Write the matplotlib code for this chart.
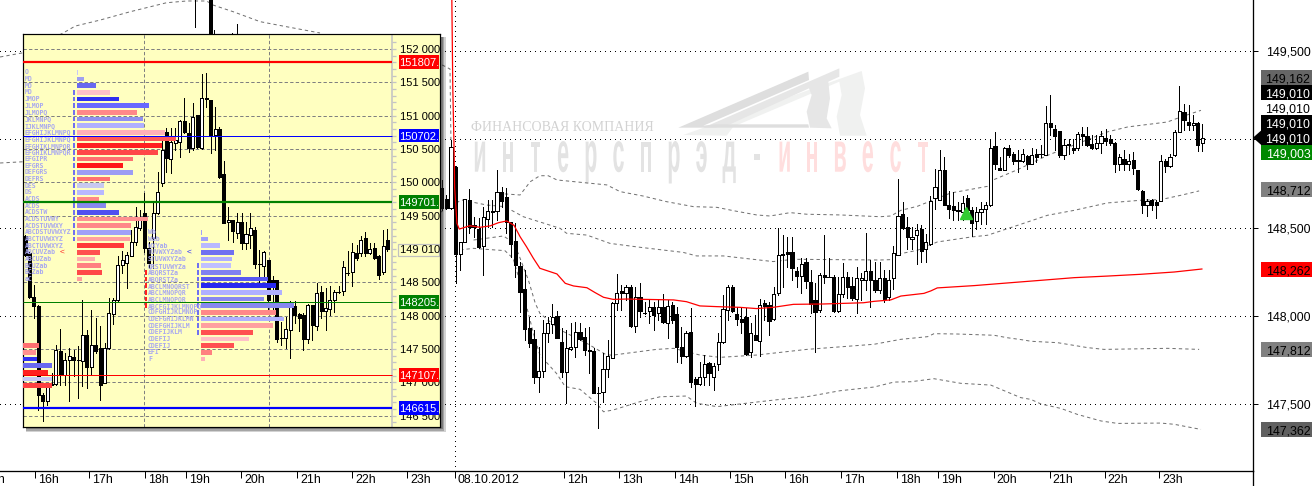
import numpy as np
import matplotlib
matplotlib.use("Agg")
import matplotlib.pyplot as plt
from matplotlib.patches import Rectangle, Polygon
from matplotlib.patheffects import AbstractPathEffect
from matplotlib.transforms import Affine2D, ScaledTranslation

plt.rcParams['font.family'] = ['Liberation Sans', 'DejaVu Sans']
plt.rcParams['lines.scale_dashes'] = False
PX = 0.72

# ---------- main chart candles (5-minute bars, 08.10.2012 session) ----------
main_open = [148723,148660,148610,148842,148349,148421,148657,148513,148492,148398,
 148551,148589,148592,148700,148672,148534,148425,148283,148153,147930,
 147870,147657,147687,147902,147955,148000,147851,147681,147815,147826,
 147908,147879,147808,147800,147566,147568,147698,147762,148072,148140,
 148128,148162,147945,148109,148019,148030,148049,148019,148049,147958,
 148062,148009,147826,147775,147908,147641,147615,147657,147736,147657,
 147726,147851,148034,148162,148011,147981,147992,147796,147891,147860,
 148072,148062,147981,148128,148349,148360,148360,148255,148228,148304,
 148191,148089,148034,148232,148223,148219,148030,148123,148219,148170,
 148096,148202,148202,148253,148204,148147,
 148217,148107,148217,148347,
 148579,148502,148436,148460,148491,148379,148408,148670,148658,148828,
 148630,148621,148600,148589,148670,148602,148540,148591,148608,148628,
 148960,148840,148828,148953,148919,148883,148879,148904,148862,148915,
 148919,148911,149094,149060,149045,148911,148972,148953,148953,149032,
 149021,148972,148953,148979,149009,149004,148981,148862,148891,148862,
 148881,148828,148709,148630,148655,148643,148653,148879,148851,148911,
 149043,149153,149100,149083,149094,148981]
main_close = [148610,148610,148955,148349,148421,148660,148502,148502,148389,148562,
 148592,148592,148700,148653,148534,148408,148291,148138,147926,147849,
 147657,147687,147902,147958,147996,147877,147681,147817,147826,147908,
 147868,147808,147804,147566,147562,147698,147774,148072,148128,148128,
 148162,147945,148109,148030,148015,148049,148006,148049,147966,148058,
 147977,147826,147775,147902,147628,147615,147657,147726,147679,147719,
 147851,148038,148166,148030,147981,147966,147785,147902,147864,148060,
 148058,147970,148123,148343,148345,148349,148270,148228,148292,148200,
 148068,148021,148232,148219,148221,148030,148123,148219,148166,148100,
 148213,148213,148253,148204,148147,148217,
 148098,148202,148358,148564,
 148498,148447,148447,148489,148370,148421,148653,148732,148828,148630,
 148608,148598,148596,148642,148598,148528,148589,148606,148630,148953,
 148858,148828,148953,148911,148877,148879,148917,148858,148911,148900,
 148915,149094,149070,149019,148909,148970,148968,148940,149032,149017,
 148968,148951,148979,149021,148989,148981,148862,148902,148862,148879,
 148838,148717,148630,148653,148630,148630,148879,148851,148900,149043,
 149162,149108,149081,149094,148970,149009]
main_high = [148770,148685,148996,148850,148421,148660,148717,148562,148553,148619,
 148657,148657,148827,148732,148723,148534,148525,148308,148260,147996,
 147921,147826,147977,147996,148066,148028,147930,147921,147958,147968,
 147958,147930,147940,147817,147600,147789,147864,148081,148238,148175,
 148175,148175,148166,148185,148081,148091,148081,148091,148125,148091,
 148081,148053,147940,147917,148043,147657,147741,147779,147741,147732,
 147902,148119,148175,148175,148053,148053,148043,147958,148006,148096,
 148091,148081,148166,148496,148458,148449,148445,148279,148326,148326,
 148260,148185,148241,148458,148326,148232,148223,148298,148251,148223,
 148275,148241,148468,148317,148308,148308,
 148258,148258,148396,148777,
 148645,148560,148504,148523,148513,148466,148677,148834,148938,148900,
 148708,148702,148645,148677,148683,148617,148617,148645,148645,148994,
 149042,148900,148957,148966,148928,148938,148947,148909,148953,148947,
 148966,149187,149249,149079,149045,149004,149000,149004,149042,149070,
 149070,149023,149023,149047,149060,149023,148985,148919,148938,148919,
 148928,148828,148711,148664,148664,148655,148909,148891,148919,149051,
 149300,149202,149193,149136,149098,149089]
main_low = [148600,148605,148604,148185,148260,148420,148468,148449,148383,148232,
 148502,148506,148543,148619,148468,148336,148223,148025,147864,147826,
 147619,147572,147657,147855,147902,147874,147657,147509,147808,147766,
 147864,147779,147675,147562,147364,147515,147657,147760,148034,148034,
 148091,147936,147911,147996,148011,147958,147921,147977,147958,147874,
 147958,147741,147732,147770,147600,147490,147609,147609,147609,147581,
 147694,147849,147977,148025,147949,147902,147779,147766,147862,147774,
 147977,147892,147977,148119,148166,148279,148204,148166,148128,148157,
 148015,147794,148025,148185,148221,148025,148025,148109,148100,148091,
 148015,148091,148147,148053,148138,148128,
 148079,148089,148155,148343,
 148494,148381,148377,148296,148306,148306,148400,148608,148655,148628,
 148557,148545,148545,148545,148560,148453,148494,148523,148523,148625,
 148834,148825,148825,148900,148862,148815,148872,148834,148858,148872,
 148900,148909,149023,148938,148900,148891,148915,148923,148938,148966,
 148960,148947,148947,148923,148966,148966,148815,148825,148825,148828,
 148806,148711,148583,148564,148598,148557,148649,148815,148843,148908,
 149041,149051,149051,149051,148932,148934]

# candles of the previous session that stick out above the inset
top_bars = [-53.5, -50.2, -49.3, -45.4, -44.3]
top_high = [149800, 149800, 149620, 149600, 149650]
top_low = [149636, 149500, 149500, 149500, 149500]
top_body_bar = [-50.2]
top_body_high = [149800]
top_body_low = [149500]

# ---------- main chart overlay lines: x = bar number, y = price ----------
vwap_bar = [2.2,2.4,2.7,2.8,3.3,3.8,4.3,6.1,8.3,10.5,12.3,14.1,15.7,17,18.4,19.9,21.3,22.8,25,26.8,28.6,31.5,33.3,35.1,37.2,40.1,50.3,53.1,56,59.7,64.7,68.3,71.9,76.3,82.8,91.5,93.8,97.4,99.6,104.6,106.1,107.5,115.5,122.7,130,137.2,144.4,151.6,158.9,164.9]
vwap_price = [149789,149298,148921,148732,148525,148492,148496,148511,148502,148510,148528,148538,148513,148449,148392,148326,148270,148257,148238,148185,148170,148160,148132,148106,148094,148096,148091,148081,148057,148053,148049,148042,148049,148066,148068,148075,148083,148091,148113,148128,148142,148159,148172,148187,148202,148217,148226,148236,148249,148266]

band_a_bar = [13.7,17,19.2,21.3,23.1,25,35.8,38.7,43.7,48.8,54.6,59.7,63.3,68.3,71.2,75.6,79.2,86.4,95.1,97.4,99.6,103.2,110.4,118.4,119.8,124.9,131.4,144.4,148.8,157.4,160.3,164.7]
band_a_price = [148691,148685,148760,148794,148794,148770,148742,148704,148679,148647,148619,148615,148596,148572,148566,148585,148576,148572,148562,148566,148598,148621,148696,148734,148772,148828,148909,149042,149070,149098,149126,149164]
band_b_bar = [-0.4,4.3,9.8,13.7,17.7,25.7,27.1,31.5,36.5,43,52.4,55.3,61.1,71.9,76.3,95.1,97.4,99.6,103.2,107.5,114.8,118.4,124.9,131.4,137.2,144.4,151.6,156,160.3,164.3]
band_b_price = [148585,148657,148628,148619,148562,148496,148468,148458,148411,148389,148360,148340,148340,148308,148321,148317,148319,148353,148372,148419,148447,148457,148513,148570,148598,148640,148655,148659,148683,148708]
band_c_bar = [6.9,13.4,15.2,16.6,17.7,18.8,20.3,21.3,25.7,31.5,35.8,37.2,46.6,50.3,56,60.4,68.3,79.2,93.8,99.6,105.4,106.8,111.9,119.8,122.7,126.3,127.8,133.6,140.1,143.7,157.4,164.3]
band_c_price = [148430,148453,148421,148355,148279,148204,148072,148015,147921,147845,147779,147779,147811,147817,147779,147766,147779,147811,147840,147868,147883,147900,147898,147891,147877,147864,147857,147849,147821,147811,147817,147811]
band_d_bar = [4,6.9,9.8,13.7,15.5,17.7,19.9,21.3,24.9,26.8,30,33.6,35.1,37.2,43,47.4,53.1,55.3,59.7,64.7,72,79.2,86.4,93.8,98.1,101.8,106.8,112.6,119.1,125.6,127.8,130,134.3,137.9,143,146.6,156,158.9,164.7]
band_d_price = [148374,148383,148377,148370,148326,148128,147902,147779,147675,147600,147585,147506,147458,147468,147515,147543,147547,147506,147487,147502,147524,147543,147577,147598,147626,147628,147645,147619,147609,147538,147528,147502,147477,147443,147406,147392,147394,147387,147358]
prev_band_bar = [-95.8,-90.8,-82.1,-79.5,-74.1,-67.6,-59.7,-55.3,-51,-49.6,-45.2,-39.4,-34.4,-26.4]
prev_band_price = [149466,149490,149602,149641,149675,149722,149773,149783,149783,149760,149722,149666,149641,149602]
prev_band2_bar = [-95.8,-90.8]
prev_band2_price = [148866,148873]
spike_band_bar = [0.1,1.8,2.0]
spike_band_price = [149421,149398,148996]

signal_bar = [113.8]
signal_price = [148583]

main_y_ticks = [147500, 148000, 148500, 149000, 149500]
main_y_labels = ['147,500', '148,000', '148,500', '', '149,500']
grid_prices = [147500, 148000, 148500, 149000, 149500]
x_tick_bars = [-88.3,-76.4,-64.4,-55.4,-43.5,-31.3,-19.4,-7.5,2.8,26.5,38.5,50.6,62.6,74.5,86.6,98.7,107.7,119.7,131.9,143.8,155.7]
x_tick_labels = ['16h','17h','18h','19h','20h','21h','22h','23h','08.10.2012','12h','13h','14h','15h','16h','17h','18h','19h','20h','21h','22h','23h']

right_labels = ['149,162','149,010','149,010','149,010','149,010','149,003','148,712','148,262','147,812','147,362']
right_label_rows = [77.5, 92.7, 107.7, 122.7, 137.7, 152.7, 189.7, 269.7, 349.7, 429.7]
right_label_bg = ['#666666','#000000',None,'#000000','#000000','#008800','#808080','#ff0000','#808080','#606060']
right_label_fg = ['#000000','#ffffff','#000000','#ffffff','#ffffff','#ffffff','#000000','#000000','#000000','#000000']

# ---------- inset chart candles ----------
inset_open = [149200,148940,148280,148140,146815,146715,146965,146980,147465,147115,
 147330,147380,147332,147315,147705,147230,147565,147515,146990,147510,
 148030,148230,148765,148790,148900,149110,149310,149535,149015,149160,
 149545,149995,150760,150345,150585,150610,150920,150735,150510,151010,
 150510,151265,151235,150710,150800,150125,149400,149435,149245,149410,
 149090,149210,149285,148782,148750,148830,148530,148530,147667,147665,
 147790,148140,148025,148015,147650,148155,147850,148350,148065,148100,
 148240,148357,148375,148642,148650,148940,148940,149165,148940,149020,
 148890,148650,149140]
inset_close = [148910,148280,148140,146815,146715,146965,146980,147480,147115,147330,
 147390,147330,147328,147715,147230,147565,147465,146965,147510,148040,
 148240,148765,148830,148915,149105,149325,149460,149015,148790,149535,
 149860,150485,150360,150605,150635,150920,150750,150510,150975,150525,
 151260,151245,150710,150795,150085,149395,149435,149275,149410,149090,
 149220,149310,148780,148778,148950,148240,148465,147650,147663,147800,
 148165,148015,147965,147650,148165,147865,148340,148065,148115,148240,
 148350,148353,148730,148638,148950,148865,149140,148940,149000,148865,
 148615,149040,149000]
inset_high = [149210,148960,148460,148165,146840,146990,147140,147565,147800,147440,
 147515,147490,147540,148230,147780,148090,147965,147840,147590,148265,
 148265,148890,148965,148950,149285,149635,149585,149835,149100,149685,
 150160,150660,150810,150810,150810,150935,151260,150885,151185,151010,
 151625,151635,151235,151125,150835,150315,149635,149435,149535,149535,
 149400,149535,149335,148990,148965,148830,148600,148530,147900,147980,
 148215,148215,148040,148040,148175,148165,148490,148440,148415,148440,
 148390,148440,148815,148965,149090,149065,149200,149260,149090,149090,
 148915,149290,149300]
inset_low = [148900,148265,147965,146590,146425,146665,146965,146965,146965,146965,
 146715,147090,146765,146940,146915,147115,147440,146730,146990,147500,
 147880,148215,148640,148415,148890,149060,149285,148960,148715,148715,
 149530,149945,150160,150145,150485,150385,150735,150460,150485,150510,
 150495,151135,150445,150485,150060,149385,149135,149110,149160,149000,
 149000,149015,148715,148500,148590,148040,148100,147600,147565,147515,
 147365,147890,147765,147490,147590,147640,147780,147965,147780,148015,
 148050,148340,148315,148615,148440,148840,148900,148900,148920,148850,
 148550,148620,148970]

inset_ticks = [146500,147000,147500,148000,148500,149000,149500,150000,150500,151000,151500,152000]
inset_tick_labels = ['146 500','147 000','147 500','148 000','148 500','149 010','149 500','150 000','150 500','151 000','151 500','152 000']
inset_grid = [146500,147000,147500,148000,148500,149500,150000,150500,151000,151500,152000]
inset_vgrid_bars = [27.0, 55.1]
inset_levels = [151807,150702,149701,148205,147107,146615]
inset_level_labels = ['151807.','150702.','149701.','148205.','147107.','146615.']
inset_level_colors = ['#ff0000','#0000ff','#008000','#008000','#ff0000','#0000ff']
inset_level_box = ['#ff0000','#0000ff','#008000','#008000','#ff0000','#0000ff']
inset_level_widths = [2.2,1,2.2,1,1,2.2]

# market profile 1
p1_prices = [151650,151550,151450,151350,151250,151150,151050,150950,150850,150750,150650,150550,150450,150350,150250,150150,150050,149950,149850,149750,149650,149550,149450,149350,149250,149150,149050,148950,148850,148750,148650,148550]
p1_tpo = ['O','MO','MO','MO','JMOP','JLMOP','JLMOPQ','JKLMNPQ','IJKLMNPQ','EFGHIJKLMNPQ','EFGHIJKLMNPQ','EFGHIKLMNPQR','EFGHIKLMNPQR','EFGIPR','EFGRS','DEFGRS','DEFRS','DES','DS','ACDS','ACDS','ACDSTW','ACDSTUVWY','ACDSTUVWXY','ABCDSTUVWXYZ','ABCTUVWXYZ','ABCTUVWXYZ','ABCUVZab','ABCUZab','BCUZab','BCZab','aC']
p1_count = [0.2,1.6,4.2,7.5,9.5,16.3,13.6,14.9,15.2,19.9,22.4,19.2,18.3,12.7,10.4,12.7,7.5,6.1,6.1,5.0,6.6,9.5,16.1,12.2,12.2,12.0,10.6,5.2,4.1,5.4,5.7,1.1]
p1_colors = ['#c8c8f8','#a0a0f0','#6868f0','#ffc0c8','#3030f0','#6868ff','#ff8888','#9090f0','#b0b0ff','#ffb0b8','#ff5858','#ff2020','#ff4848','#ff7070','#ff1818','#9c9cf4','#ff7070','#c8c8f0','#b8b8ff','#ff8888','#8888f0','#5050f0','#ff9090','#ff8888','#a0a0f8','#ffa0a0','#ff3838','#ff5050','#ffb0b0','#ff8080','#ff4848','#ffa0a0']

# market profile 2
p2_prices = [149250,149150,149050,148950,148850,148750,148650,148550,148450,148350,148250,148150,148050,147950,147850,147750,147650,147550,147450,147350]
p2_tpo = ['Wb','Wab','WXYab','TUVWXYZab','STUVWXYZab','QRSTUVWYZa','ABQRSTZa','ABQRSTZa','ABCLMNOQRST','ABCLMNOPQR','ABCLMNOPQR','ABCFGIJKLMNOPQ','CDFGHIJKLMNOP','CDEFGHIJKLMN','CDEFGHIJKLM','CDEFIJKLM','CDEFIJ','CDEFIJ','EFI','F']
p2_count = [0.3,1.6,4.3,7.5,7.0,6.8,9.0,15.2,17.0,18.3,14.3,21.0,17.0,18.8,16.3,11.8,10.9,7.5,2.5,0.9]
p2_colors = ['#a0a0f8','#a0a0f8','#b8b8ff','#7070f0','#b0b0ff','#c0c0ff','#8080f0','#5858f0','#2828f0','#b0b0ff','#8888f0','#8888f0','#ff8888','#b0b0ff','#ffa0a0','#ff5050','#ffc0c8','#ff5050','#ff8080','#ffb0b8']

# market profile 0 (clipped at the left edge)
p0_prices = [147550,147450,147350,147250,147150,147050,146950]
p0_count = [3.5,2.8,3.2,6.6,5.7,6.6,6.6]
p0_colors = ['#ff7070','#ff9090','#3030f0','#6868f0','#ff2020','#c8c8f8','#ff4040']

W, H = 1314, 486
fig = plt.figure(figsize=(W/100, H/100), dpi=100, facecolor='white')
px2disp = Affine2D().scale(1, -1).translate(0, H)

# ---------- main axes ----------
AX_R, AX_B = 1252.7, 470.7
ax = fig.add_axes([0, (H-AX_B)/H, AX_R/W, AX_B/H], zorder=1)
X0, DX = 441.7, 4.61
Y_AT = lambda y: 148000 + (316 - y) * 5.66
ax.set_xlim(-X0/DX, (AX_R-X0)/DX)
ax.set_ylim(Y_AT(AX_B), Y_AT(0))
ax.set_facecolor('white')
for s in ('top', 'left'):
    ax.spines[s].set_visible(False)
for s in ('right', 'bottom'):
    ax.spines[s].set_linewidth(1*PX*1.3)
ax.yaxis.tick_right()
ax.set_yticks(main_y_ticks)
ax.set_yticklabels(main_y_labels, fontsize=8.9, color='black')
ax.tick_params(axis='y', direction='out', length=3.6, width=PX, pad=6.0)
ax.set_xticks(x_tick_bars)
ax.set_xticklabels(x_tick_labels, fontsize=8.9, color='black', ha='left')
ax.tick_params(axis='x', direction='out', length=5, width=PX, pad=-2.5)
off = ScaledTranslation(3/100, 0, fig.dpi_scale_trans)
for lab in ax.get_xticklabels():
    lab.set_transform(lab.get_transform() + off)
ax.annotate('15h', xy=(-100, 0), xycoords=('data', 'axes fraction'), xytext=(3, -3.5),
            textcoords='offset pixels', fontsize=8.9, ha='left', va='top', annotation_clip=False)
fig.add_artist(plt.Line2D([AX_R/W, AX_R/W], [0, (H-AX_B)/H], color='black', lw=1*PX*1.3))

# grid
dots = (0, (PX, 3.31))
for p in grid_prices:
    ax.axhline(p, color='black', lw=PX, ls=dots, antialiased=False, zorder=1)
ax.axvline(x_tick_bars[8], color='black', lw=PX, ls=dots, antialiased=False, zorder=1)

# logo (background decoration)
logo = Affine2D().scale(1/3, -1/3).translate(660, H-55)
ax.add_patch(Polygon([(70,240),(605,48),(615,100),(600,180),(620,242),(540,242),(530,185),(545,120),(538,80),(220,215),(200,242)],
                     closed=True, fc='#f0f1f0', ec='none', transform=logo, zorder=0.2, clip_on=False))
ax.add_patch(Polygon([(130,218),(538,40),(538,65),(505,80),(510,130),(500,190),(515,220),(450,218),(440,170),(455,120),(447,100),(210,208),(165,218)],
                     closed=True, fc='#e6e6e6', ec='none', transform=logo, zorder=0.3, clip_on=False))
ax.add_patch(Polygon([(55,218),(445,50),(447,75),(130,212),(165,208),(445,208),(447,218)],
                     closed=True, fc='#dedede', ec='none', transform=logo, zorder=0.4, clip_on=False))

SQ = 0.38
class Squeeze(AbstractPathEffect):
    def __init__(self, x0, s):
        super().__init__()
        self.x0, self.s = x0, s
    def draw_path(self, renderer, gc, tpath, affine, rgbFace=None):
        t = affine + Affine2D().translate(-self.x0, 0).scale(self.s, 1).translate(self.x0, 0)
        renderer.draw_path(gc, tpath, t, rgbFace)

for i, ch in enumerate('интерспрэд-инвест'):
    xp = 480 + 27.7*i
    col = '#e3e3e3' if i <= 10 else '#ffdede'
    ax.text(xp, 171.7, ch, transform=px2disp, fontsize=41, fontweight='bold', color=col, ha='center', va='baseline',
            zorder=0.5, clip_on=False, path_effects=[Squeeze(xp, SQ)])
ax.text(470.7, 127, 'ФИНАНСОВАЯ КОМПАНИЯ', transform=px2disp, fontsize=10.0, family='Liberation Serif', color='#d2d2d2',
        ha='left', va='center', zorder=0.5, clip_on=False)

def candles(a, xs, o, c, hi, lo, width):
    xs, o, c, hi, lo = map(np.asarray, (xs, o, c, hi, lo))
    a.vlines(xs, lo, hi, color='black', lw=1.0*PX, zorder=3, antialiased=False)
    up = c >= o
    a.bar(xs[up], (c-o)[up], bottom=o[up], width=width, fc='white', ec='black', lw=1.0*PX, zorder=4, antialiased=False)
    a.bar(xs[~up], (o-c)[~up], bottom=c[~up], width=width, fc='black', ec='black', lw=1.0*PX, zorder=4, antialiased=False)

bars = np.arange(len(main_open))
candles(ax, bars, main_open, main_close, main_high, main_low, 0.7)
ax.vlines(top_bars, top_low, top_high, color='black', lw=PX, zorder=3, antialiased=False)
ax.bar(top_body_bar, np.subtract(top_body_high, top_body_low), bottom=top_body_low, width=0.7, fc='black', ec='black', lw=PX, zorder=4)

band_style = dict(color='#707070', lw=PX, ls=(0, (2.4, 2.2)), zorder=2.5)
for bx, by in ((band_a_bar, band_a_price), (band_b_bar, band_b_price), (band_c_bar, band_c_price),
               (band_d_bar, band_d_price), (prev_band_bar, prev_band_price),
               (prev_band2_bar, prev_band2_price), (spike_band_bar, spike_band_price)):
    ax.plot(bx, by, **band_style)
ax.plot(vwap_bar, vwap_price, color='#ff0000', lw=1.25*PX, zorder=5, solid_joinstyle='miter')
ax.plot(signal_bar, signal_price, marker='^', ms=8, color='#33cc33', mec='#33cc33', ls='none', zorder=6)

# right-hand value labels
pxT = Affine2D().scale(1, -1).translate(0, H)
for txt, y, bg, fg in zip(right_labels, right_label_rows, right_label_bg, right_label_fg):
    if bg:
        ax.add_patch(Rectangle((1261.3, y-7.5), 51, 15, fc=bg, ec='none', transform=pxT, clip_on=False, zorder=8))
    ax.text(1288, y, txt, transform=pxT, fontsize=8.9, color=fg, ha='center', va='center_baseline', clip_on=False, zorder=9)
ax.add_patch(Polygon([(1253, 137.7), (1261.5, 130.2), (1261.5, 145.2)], closed=True, fc='black', ec='none',
                     transform=pxT, clip_on=False, zorder=8))

# inset shadow, a figure-level layer between the two axes
for grow, al in ((0, .2), (1.5, .25), (3, .3), (4.5, .45)):
    fig.add_artist(Rectangle((26, 37), 419.5-grow, 395-grow, fc='#202020', ec='none', alpha=al,
                             transform=pxT, zorder=1.5))

# ---------- inset axes ----------
IL, IR, IT, IB = 23.3, 439.7, 34.3, 427
ax2 = fig.add_axes([IL/W, (H-IB)/H, (IR-IL)/W, (IB-IT)/H], zorder=2)
ix = lambda px: (px - 25) / 4.42
ax2.set_xlim(ix(IL), ix(IR))
ax2.set_ylim(146330, 152220)
ax2.set_facecolor('#ffffc0')
ax2.set_xticks([]); ax2.set_yticks([])
for s in ax2.spines.values():
    s.set_linewidth(1.2*PX); s.set_color('black')
chart_end = ix(391.7)
dash = (0, (2.4, 1.6))
ax2.hlines(inset_grid, ix(IL), chart_end, color='#808080', lw=PX, ls=dash, zorder=1)
ax2.vlines(inset_vgrid_bars, 146330, 152220, color='#808080', lw=PX, ls=dash, zorder=1)
ax2.axvline(chart_end, color='#c4c4c4', lw=1.6*PX, zorder=2)
minor = np.arange(146400, 152200, 100)
ax2.hlines(minor, chart_end, ix(396), color='#c4c4c4', lw=1.3*PX, zorder=2)

candles(ax2, np.arange(len(inset_open)), inset_open, inset_close, inset_high, inset_low, 0.68)

row_h = 68
left1, left2 = ix(77), ix(201)
ax2.barh(p1_prices, p1_count, left=left1, height=row_h, color=p1_colors, zorder=5, linewidth=0)
ax2.barh(p2_prices, p2_count, left=left2, height=row_h, color=p2_colors, zorder=5, linewidth=0)
ax2.barh(p0_prices, p0_count, left=ix(IL), height=row_h, color=p0_colors, zorder=5, linewidth=0)
ax2.barh(p1_prices[3:26], 0.4, left=ix(73.2), height=row_h, color='#7070f0', zorder=5, linewidth=0)
ax2.barh(p2_prices[5:16], 0.35, left=ix(197.2), height=row_h, color='#7070f0', zorder=5, linewidth=0)
ax2.barh(p2_prices[6:12], 0.4, left=ix(145.2), height=row_h, color='#ff2020', zorder=5, linewidth=0)

tpo_style = dict(family='DejaVu Sans Mono', fontsize=4.7, fontweight='bold', color='#a8a8f0', ha='left',
                 va='center', zorder=6, clip_on=True)
for p, s in zip(p1_prices, p1_tpo):
    ax2.text(ix(24.5), p, s, **tpo_style)
for p, s in zip(p2_prices, p2_tpo):
    ax2.text(ix(148), p, s, **tpo_style)
ax2.text(ix(61.7), 148950, '<', fontsize=6, color='#ff2020', ha='center', va='center', zorder=6)
ax2.text(ix(189.5), 148950, '<', fontsize=6, color='#2020ff', ha='center', va='center', zorder=6)

for p, lw, col in zip(inset_levels, inset_level_widths, inset_level_colors):
    ax2.hlines(p, ix(IL), chart_end, color=col, lw=lw*PX, zorder=7)

for p, lab in zip(inset_ticks, inset_tick_labels):
    ax2.text(ix(399.5), p, lab, fontsize=8, color='black', ha='left', va='center_baseline', zorder=3)
ax2.add_patch(Rectangle((ix(398), 148890), ix(439)-ix(398), 185, fc='none', ec='#c0c0c0', lw=1.2*PX, zorder=2.5))
for p, lab, col in zip(inset_levels, inset_level_labels, inset_level_box):
    ax2.add_patch(Rectangle((ix(399), p-102), ix(IR-0.6)-ix(399), 204, fc=col, ec='none', zorder=8))
    ax2.text(ix(399.5), p, lab, fontsize=8, color='white', ha='left', va='center_baseline', zorder=9)

fig.savefig('out.png', dpi=100)
